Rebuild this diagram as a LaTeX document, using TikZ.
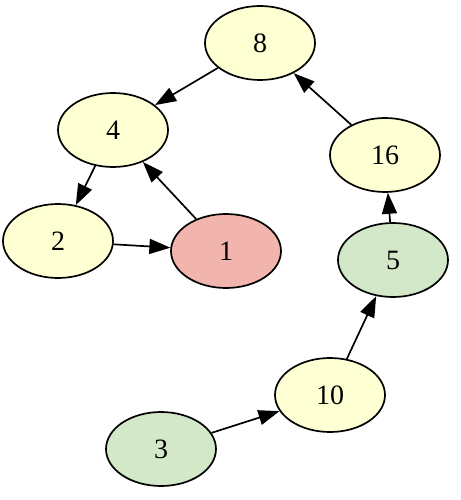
\documentclass[tikz,border=0pt]{standalone}
\usepackage{fontspec}
\setmainfont{Liberation Serif}
\usetikzlibrary{shapes.geometric,arrows.meta}

\definecolor{plainfill}{HTML}{FFFFD4}
\definecolor{rootfill}{HTML}{F2B5AE}
\definecolor{startfill}{HTML}{D2E8C9}

\tikzset{
  numnode/.style={ellipse,draw=black,line width=1.7pt,fill=plainfill,
    minimum width=110pt,minimum height=74pt,inner sep=0pt,
    font=\fontsize{28}{30}\selectfont},
  rootnode/.style={numnode,fill=rootfill},
  startnode/.style={numnode,fill=startfill},
  step arrow/.style={line width=1.7pt,-{Triangle[length=21pt,width=15pt]}}
}

\begin{document}
\begin{tikzpicture}[x=1pt,y=-1pt]
  % --- Frame ---
  \useasboundingbox (0,0) rectangle (460,500);

  % --- Numbers ---
  \node[numnode]   (n8)  at (260,43)  {8};
  \node[numnode]   (n4)  at (113,130) {4};
  \node[numnode]   (n2)  at (58,241)  {2};
  \node[rootnode]  (n1)  at (226,251) {1};
  \node[numnode]   (n16) at (385,155) {16};
  \node[startnode] (n5)  at (393,260) {5};
  \node[numnode]   (n10) at (330,395) {10};
  \node[startnode] (n3)  at (161,449) {3};

  % --- Steps ---
  \draw[step arrow] (n8)  -- (n4);
  \draw[step arrow] (n4)  -- (n2);
  \draw[step arrow] (n2)  -- (n1);
  \draw[step arrow] (n1)  -- (n4);
  \draw[step arrow] (n16) -- (n8);
  \draw[step arrow] (n5)  -- (n16);
  \draw[step arrow] (n10) -- (n5);
  \draw[step arrow] (n3)  -- (n10);
\end{tikzpicture}
\end{document}
